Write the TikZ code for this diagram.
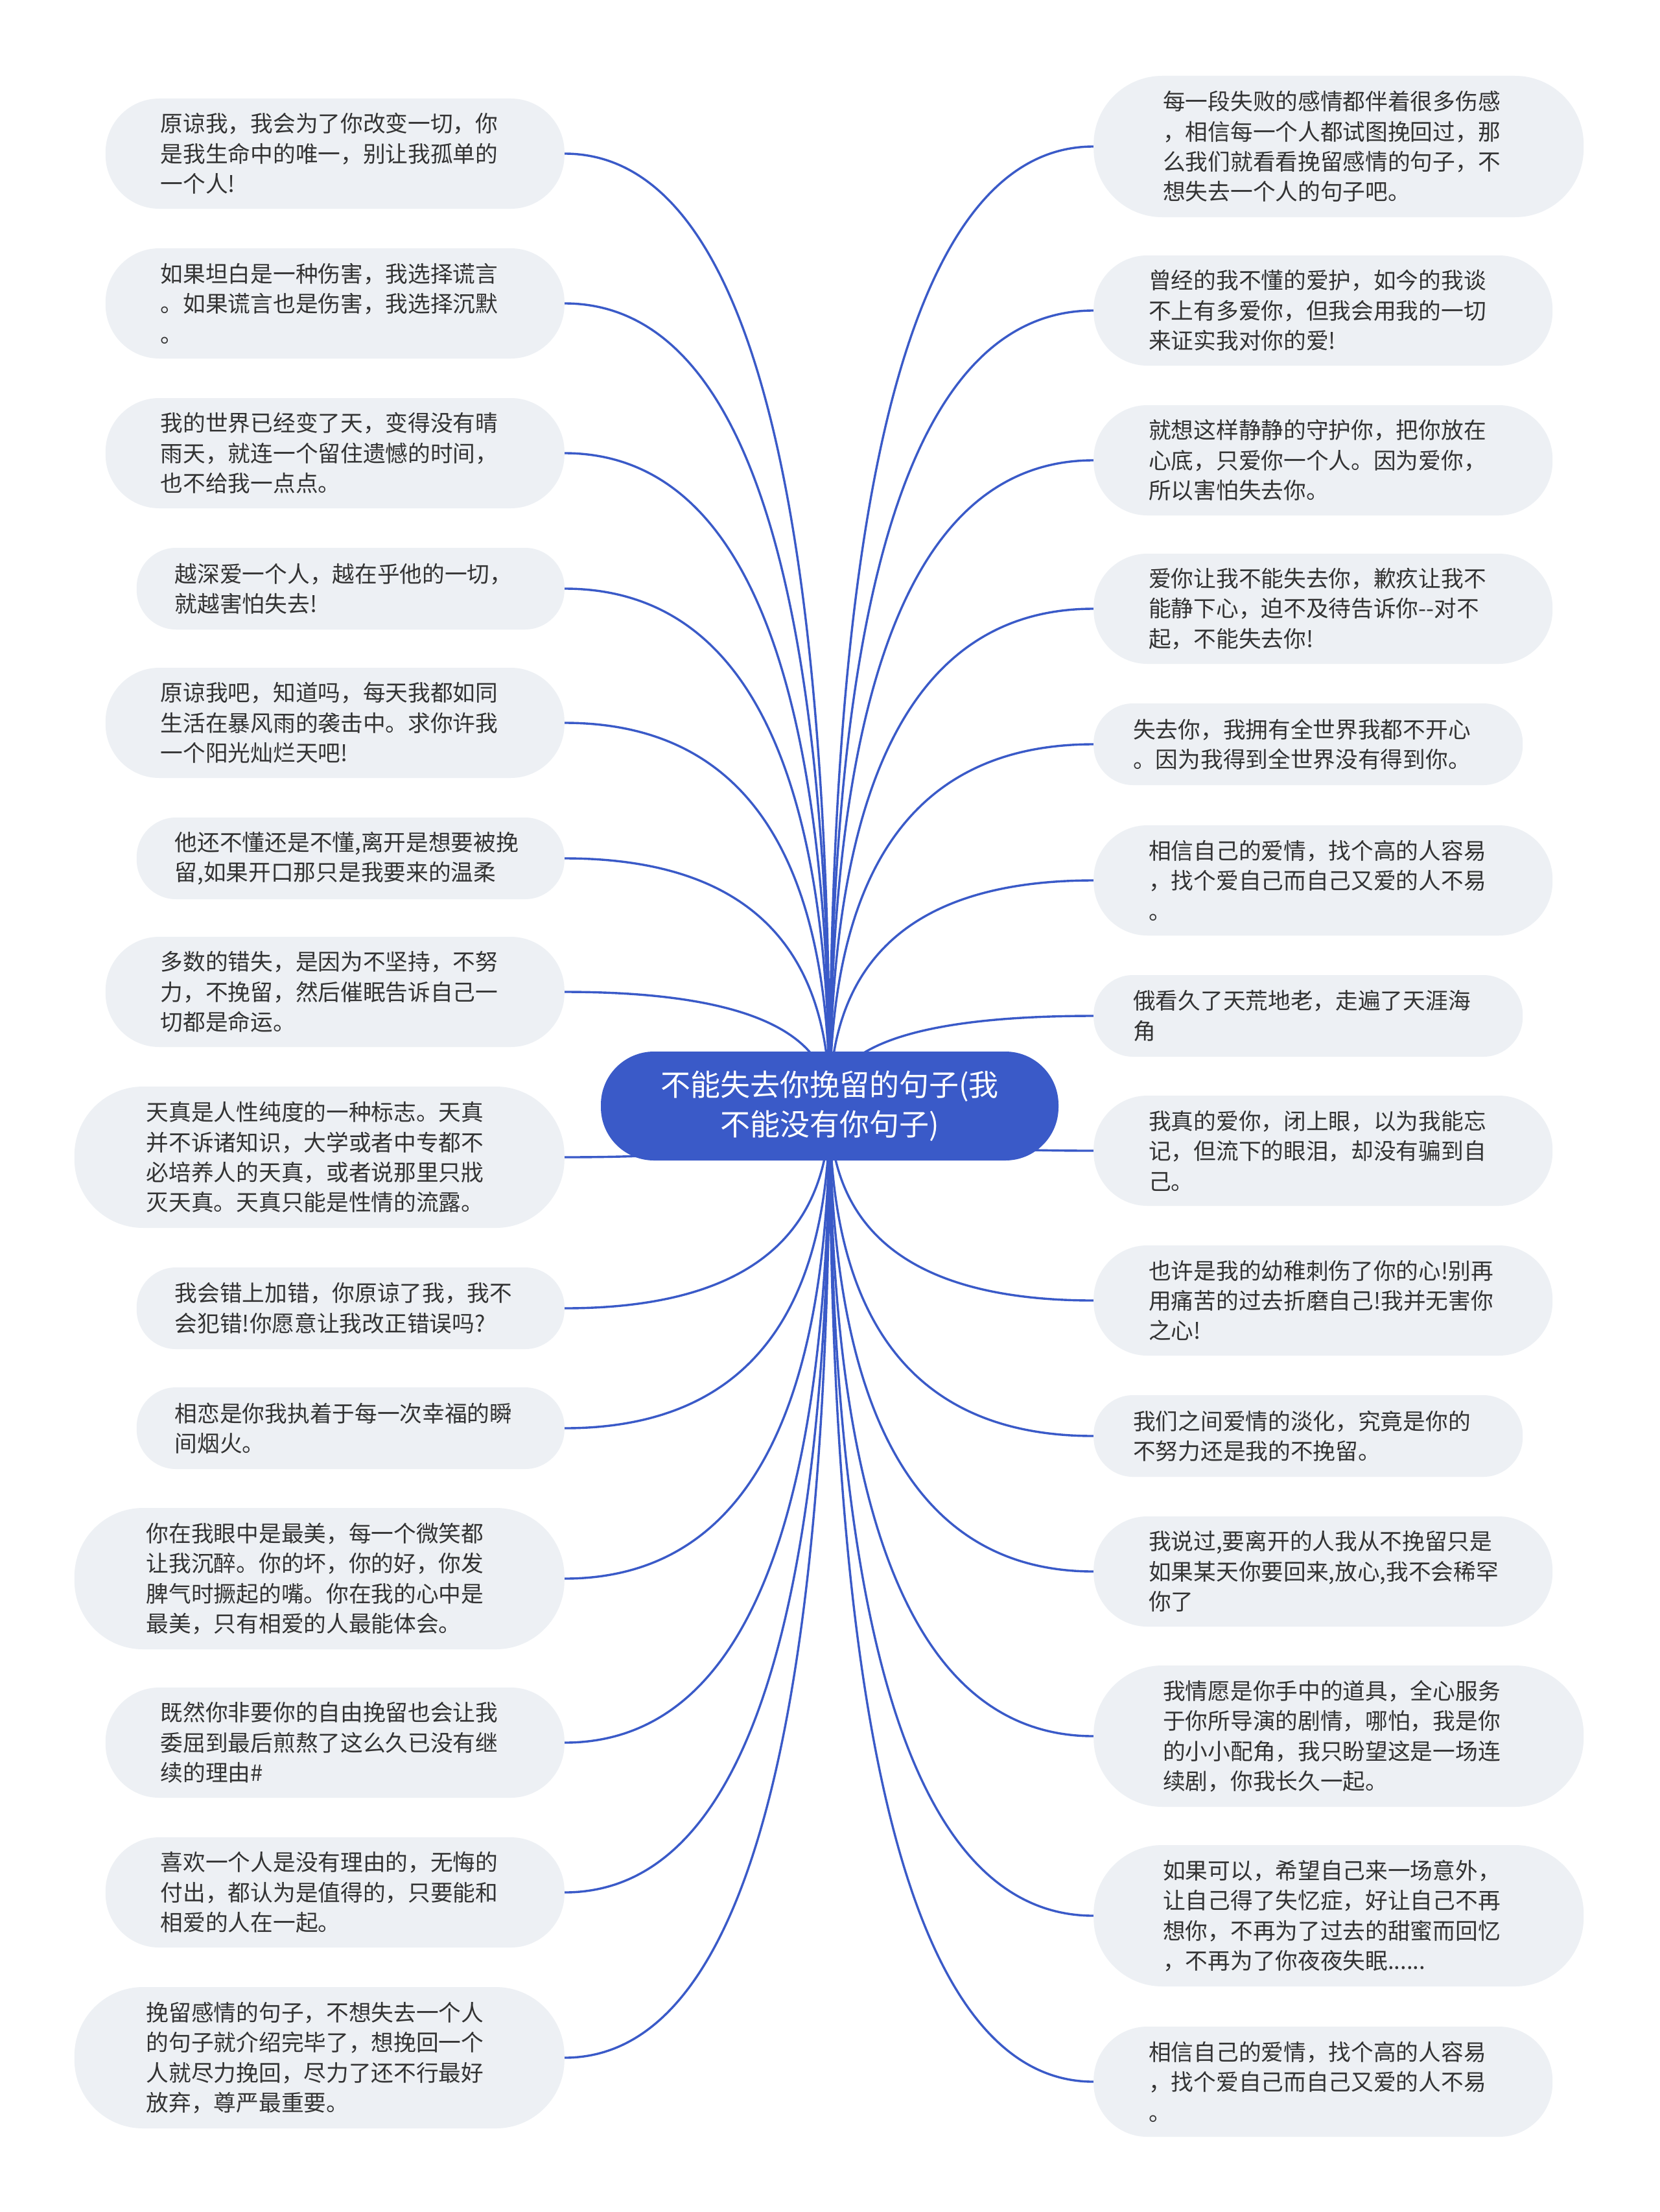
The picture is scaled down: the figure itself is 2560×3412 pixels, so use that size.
\documentclass[tikz,border=0pt]{standalone}
\usepackage{fontspec}
\setmainfont{Noto Sans CJK SC}
\newfontfamily\cjk{Noto Sans CJK SC}
\usetikzlibrary{calc}
\pgfdeclarelayer{paper}
\pgfdeclarelayer{links}
\pgfsetlayers{paper,links,main}
\definecolor{mainblue}{HTML}{3A5AC8}
\definecolor{leaffill}{HTML}{EDF0F4}
\definecolor{leaftext}{HTML}{333333}
\tikzset{
  leaf/.style={fill=leaffill, text=leaftext, inner xsep=0pt, inner ysep=0pt,
    align=left, font=\cjk\fontsize{34.7}{46.4}\selectfont},
  twoline/.style={minimum height=126pt, rounded corners=61pt},
  threeline/.style={minimum height=170pt, rounded corners=83pt},
  fourline/.style={minimum height=218pt, rounded corners=106pt},
  lA/.style={leaf, threeline, minimum width=708pt, text width=538pt, anchor=east},
  lB/.style={leaf, twoline, minimum width=660pt, text width=542pt, anchor=east},
  lC/.style={leaf, fourline, minimum width=756pt, text width=534pt, anchor=east},
  rA/.style={leaf, threeline, minimum width=708pt, text width=538pt, anchor=west},
  rB/.style={leaf, twoline, minimum width=662pt, text width=540pt, anchor=west},
  rC/.style={leaf, fourline, minimum width=756pt, text width=542pt, anchor=west},
  rootbox/.style={fill=mainblue, text=white, minimum width=706pt, minimum height=168pt,
    rounded corners=82pt, align=center, text width=640pt, inner sep=0pt,
    font=\cjk\fontsize{46}{61}\selectfont},
  conn/.style={draw=mainblue, line width=3.4pt},
}
\begin{document}
\begin{tikzpicture}[x=1pt,y=-1pt]
\begin{pgfonlayer}{paper}
\fill[white] (0,0) rectangle (2560,3412);
\end{pgfonlayer}
\useasboundingbox (0,0) rectangle (2560,3412);

\node[rootbox] (root) at (1280,1706) {不能失去你挽留的句子(我\\不能没有你句子)};

% left column
\node[lA] (L1) at (871,237) {原谅我，我会为了你改变一切，你\\是我生命中的唯一，别让我孤单的\\一个人!};
\node[lA] (L2) at (871,468) {如果坦白是一种伤害，我选择谎言\\。如果谎言也是伤害，我选择沉默\\。};
\node[lA] (L3) at (871,699) {我的世界已经变了天，变得没有晴\\雨天，就连一个留住遗憾的时间，\\也不给我一点点。};
\node[lB] (L4) at (871,908) {越深爱一个人，越在乎他的一切，\\就越害怕失去!};
\node[lA] (L5) at (871,1115) {原谅我吧，知道吗，每天我都如同\\生活在暴风雨的袭击中。求你许我\\一个阳光灿烂天吧!};
\node[lB] (L6) at (871,1324) {他还不懂还是不懂,离开是想要被挽\\留,如果开口那只是我要来的温柔};
\node[lA] (L7) at (871,1530) {多数的错失，是因为不坚持，不努\\力，不挽留，然后催眠告诉自己一\\切都是命运。};
\node[lC] (L8) at (871,1785) {天真是人性纯度的一种标志。天真\\并不诉诸知识，大学或者中专都不\\必培养人的天真，或者说那里只戕\\灭天真。天真只能是性情的流露。};
\node[lB] (L9) at (871,2018) {我会错上加错，你原谅了我，我不\\会犯错!你愿意让我改正错误吗?};
\node[lB] (L10) at (871,2203) {相恋是你我执着于每一次幸福的瞬\\间烟火。};
\node[lC] (L11) at (871,2435) {你在我眼中是最美，每一个微笑都\\让我沉醉。你的坏，你的好，你发\\脾气时撅起的嘴。你在我的心中是\\最美，只有相爱的人最能体会。};
\node[lA] (L12) at (871,2688) {既然你非要你的自由挽留也会让我\\委屈到最后煎熬了这么久已没有继\\续的理由\#};
\node[lA] (L13) at (871,2919) {喜欢一个人是没有理由的，无悔的\\付出，都认为是值得的，只要能和\\相爱的人在一起。};
\node[lC] (L14) at (871,3174) {挽留感情的句子，不想失去一个人\\的句子就介绍完毕了，想挽回一个\\人就尽力挽回，尽力了还不行最好\\放弃，尊严最重要。};

% right column
\node[rC] (R1) at (1687,226) {每一段失败的感情都伴着很多伤感\\，相信每一个人都试图挽回过，那\\么我们就看看挽留感情的句子，不\\想失去一个人的句子吧。};
\node[rA] (R2) at (1687,479) {曾经的我不懂的爱护，如今的我谈\\不上有多爱你，但我会用我的一切\\来证实我对你的爱!};
\node[rA] (R3) at (1687,710) {就想这样静静的守护你，把你放在\\心底，只爱你一个人。因为爱你，\\所以害怕失去你。};
\node[rA] (R4) at (1687,939) {爱你让我不能失去你，歉疚让我不\\能静下心，迫不及待告诉你-{}-对不\\起，不能失去你!};
\node[rB] (R5) at (1687,1148) {失去你，我拥有全世界我都不开心\\。因为我得到全世界没有得到你。};
\node[rA] (R6) at (1687,1358) {相信自己的爱情，找个高的人容易\\，找个爱自己而自己又爱的人不易\\。};
\node[rB] (R7) at (1687,1567) {俄看久了天荒地老，走遍了天涯海\\角};
\node[rA] (R8) at (1687,1775) {我真的爱你，闭上眼，以为我能忘\\记，但流下的眼泪，却没有骗到自\\己。};
\node[rA] (R9) at (1687,2006) {也许是我的幼稚刺伤了你的心!别再\\用痛苦的过去折磨自己!我并无害你\\之心!};
\node[rB] (R10) at (1687,2215) {我们之间爱情的淡化，究竟是你的\\不努力还是我的不挽留。};
\node[rA] (R11) at (1687,2424) {我说过,要离开的人我从不挽留只是\\如果某天你要回来,放心,我不会稀罕\\你了};
\node[rC] (R12) at (1687,2678) {我情愿是你手中的道具，全心服务\\于你所导演的剧情，哪怕，我是你\\的小小配角，我只盼望这是一场连\\续剧，你我长久一起。};
\node[rC] (R13) at (1687,2955) {如果可以，希望自己来一场意外，\\让自己得了失忆症，好让自己不再\\想你，不再为了过去的甜蜜而回忆\\，不再为了你夜夜失眠......};
\node[rA] (R14) at (1687,3211) {相信自己的爱情，找个高的人容易\\，找个爱自己而自己又爱的人不易\\。};

\begin{pgfonlayer}{links}
\foreach \n in {L1,L2,L3,L4,L5,L6,L7,L8,L9,L10,L11,L12,L13,L14}{
  \coordinate (k) at (root.center |- \n.east);
  \draw[conn] (root.center) .. controls ($(root.center)!2/3!(k)$) and ($(\n.east)!2/3!(k)$) .. (\n.east);
}
\foreach \n in {R1,R2,R3,R4,R5,R6,R7,R8,R9,R10,R11,R12,R13,R14}{
  \coordinate (k) at (root.center |- \n.west);
  \draw[conn] (root.center) .. controls ($(root.center)!2/3!(k)$) and ($(\n.west)!2/3!(k)$) .. (\n.west);
}
\end{pgfonlayer}
\end{tikzpicture}
\end{document}
